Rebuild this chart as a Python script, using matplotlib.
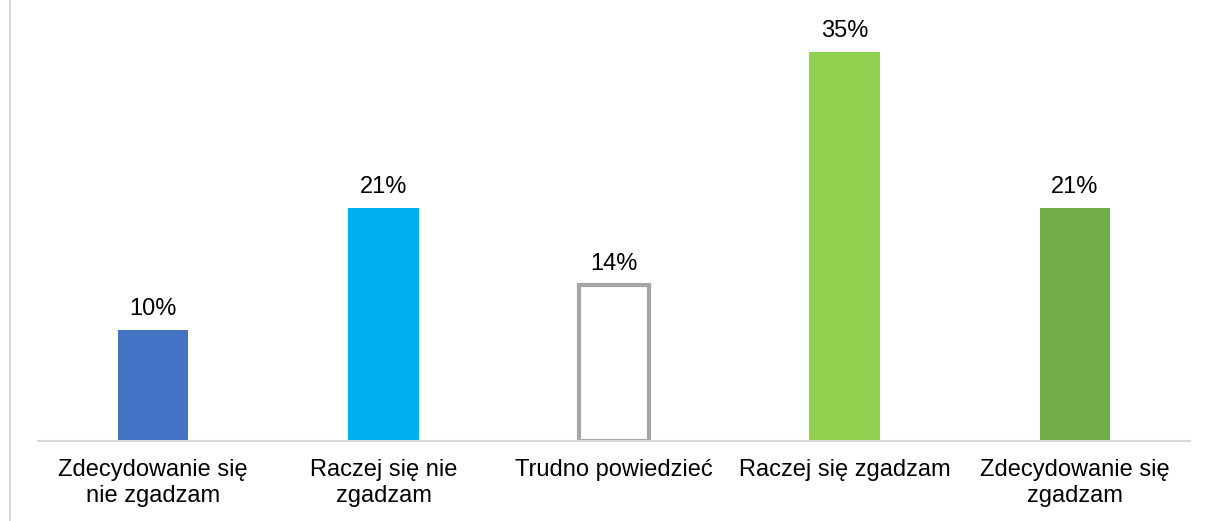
import matplotlib
matplotlib.use("Agg")
import matplotlib.pyplot as plt
from matplotlib.lines import Line2D

categories = ["Zdecydowanie się\nnie zgadzam", "Raczej się nie\nzgadzam", "Trudno powiedzieć",
              "Raczej się zgadzam", "Zdecydowanie się\nzgadzam"]
values = [10, 21, 14, 35, 21]
labels = ["10%", "21%", "14%", "35%", "21%"]
fill_colors = ["#4472C4", "#00B0F0", "#FFFFFF", "#92D050", "#70AD47"]
edge_colors = ["none", "none", "#A5A5A5", "none", "none"]

plt.rcParams['font.family'] = ['Liberation Sans', 'DejaVu Sans']

W, H = 1208, 521
fig = plt.figure(figsize=(W / 100, H / 100), dpi=100)
ax = fig.add_axes([38 / W, (H - 441) / H, 1152 / W, 441 / H])

FS = 17
x = list(range(len(categories)))
for i in x:
    lw = 3 if edge_colors[i] != "none" else 0
    ax.bar(i, values[i], width=0.305, color=fill_colors[i], edgecolor=edge_colors[i],
           linewidth=lw, zorder=2)
    ax.text(i, values[i] + 0.9, labels[i], ha="center", va="bottom", fontsize=FS, color="#000000")

ax.set_xlim(-0.5, 4.5)
ax.set_ylim(0, 39.7)
ax.set_xticks(x)
ax.set_xticklabels(categories, fontsize=FS, color="#000000", linespacing=1.26)
ax.tick_params(axis="x", length=0, pad=13)
ax.set_yticks([])
for s in ["top", "right", "left"]:
    ax.spines[s].set_visible(False)
ax.spines["bottom"].set_color("#D9D9D9")
ax.spines["bottom"].set_linewidth(1.5)
ax.spines["bottom"].set_zorder(3)

fig.add_artist(Line2D([9.5 / W, 9.5 / W], [0, 1], transform=fig.transFigure, color="#D9D9D9", linewidth=1.5))

fig.savefig("out.png", dpi=100)
